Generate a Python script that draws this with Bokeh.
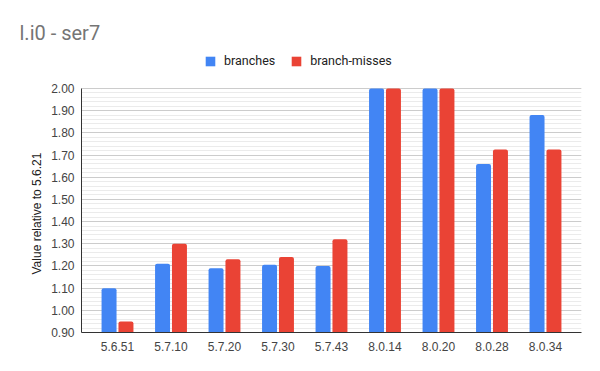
from bokeh.plotting import figure
from bokeh.models import (FactorRange, Range1d, Legend, LegendItem, FixedTicker, ColumnDataSource,
                          NumeralTickFormatter, Title)
from bokeh.transform import dodge
from bokeh.embed import file_html
from bokeh.resources import INLINE

versions = ["5.6.51", "5.7.10", "5.7.20", "5.7.30", "5.7.43", "8.0.14", "8.0.20", "8.0.28", "8.0.34"]
branches = [1.10, 1.21, 1.19, 1.205, 1.20, 2.30, 2.30, 1.66, 1.88]
branch_misses = [0.95, 1.30, 1.23, 1.24, 1.32, 2.30, 2.30, 1.725, 1.725]
y_ticks = [0.90, 1.00, 1.10, 1.20, 1.30, 1.40, 1.50, 1.60, 1.70, 1.80, 1.90, 2.00]
series_names = ["branches", "branch-misses"]
title_text = "l.i0 - ser7"
y_title = "Value relative to 5.6.21"

BLUE = "#4285F4"
RED = "#EA4335"

Y_MIN, Y_MAX = y_ticks[0], y_ticks[-1]
# frame spans screen y 48..332; the axis (0.90..2.00) occupies 88..332
FRAME_TOP, AXIS_TOP, FRAME_BOTTOM = 48, 88, 332
y_end = Y_MIN + (FRAME_BOTTOM - FRAME_TOP) * (Y_MAX - Y_MIN) / (FRAME_BOTTOM - AXIS_TOP)

W, Hh = 600, 371
source = ColumnDataSource(dict(
    v=versions,
    b=[min(x, Y_MAX) for x in branches],
    m=[min(x, Y_MAX) for x in branch_misses],
))

p = figure(width=W, height=Hh, output_backend="svg", toolbar_location=None,
           x_range=FactorRange(factors=versions, range_padding=0.173, range_padding_units="absolute"),
           y_range=Range1d(Y_MIN, y_end),
           min_border_left=81, min_border_right=W - 581, min_border_bottom=Hh - FRAME_BOTTOM,
           min_border_top=FRAME_TOP)

r1 = p.vbar(x=dodge("v", -0.158, range=p.x_range), top="b", bottom=Y_MIN, width=0.28, source=source,
            fill_color=BLUE, line_color=None, border_radius=(2, 2, 0, 0))
r2 = p.vbar(x=dodge("v", 0.158, range=p.x_range), top="m", bottom=Y_MIN, width=0.28, source=source,
            fill_color=RED, line_color=None, border_radius=(2, 2, 0, 0))

p.title.text = title_text
p.title.text_font = "Roboto"
p.title.text_font_size = "20px"
p.title.text_font_style = "normal"
p.title.text_color = "#757575"
p.title.align = "left"
p.title.offset = -62
p.title.standoff = 7

legend = Legend(items=[LegendItem(label=series_names[0], renderers=[r1]),
                       LegendItem(label=series_names[1], renderers=[r2])],
                orientation="horizontal", location=(123, FRAME_BOTTOM - 68),
                glyph_width=12, glyph_height=12, label_standoff=8, spacing=15,
                padding=0, margin=0, border_line_color=None, background_fill_alpha=0,
                label_text_font="Roboto", label_text_font_size="12.5px", label_text_color="#222222",
                label_height=14)
p.add_layout(legend)

p.outline_line_color = None
p.xgrid.grid_line_color = None
p.ygrid.grid_line_color = "#cccccc"
p.ygrid.minor_grid_line_color = "#ebebeb"

minor = [round(Y_MIN + 0.02 * i, 2) for i in range(56)]
p.yaxis.ticker = FixedTicker(ticks=y_ticks, minor_ticks=minor)
p.yaxis.bounds = (Y_MIN, Y_MAX)
p.yaxis.formatter = NumeralTickFormatter(format="0.00")
p.yaxis.axis_line_color = "#333333"
p.yaxis.major_tick_line_color = None
p.yaxis.minor_tick_line_color = None
p.yaxis.major_tick_out = 0
p.yaxis.major_tick_in = 0
p.yaxis.minor_tick_out = 0
p.yaxis.major_label_standoff = 7

ytitle = Title(text=y_title, align="left", offset=58, standoff=10,
               text_font="Liberation Sans", text_font_style="normal", text_font_size="12px",
               text_color="#222222")
p.add_layout(ytitle, "left")

for ax in (p.xaxis, p.yaxis):
    ax.major_label_text_font = "Liberation Sans"
    ax.major_label_text_font_size = "12px"
    ax.major_label_text_color = "#444444"

p.xaxis.axis_line_color = "#333333"
p.xaxis.major_tick_line_color = None
p.xaxis.minor_tick_line_color = None
p.xaxis.major_tick_out = 0
p.xaxis.major_tick_in = 0
p.xaxis.major_label_standoff = 9

open("out.html", "w").write(file_html(p, INLINE))
